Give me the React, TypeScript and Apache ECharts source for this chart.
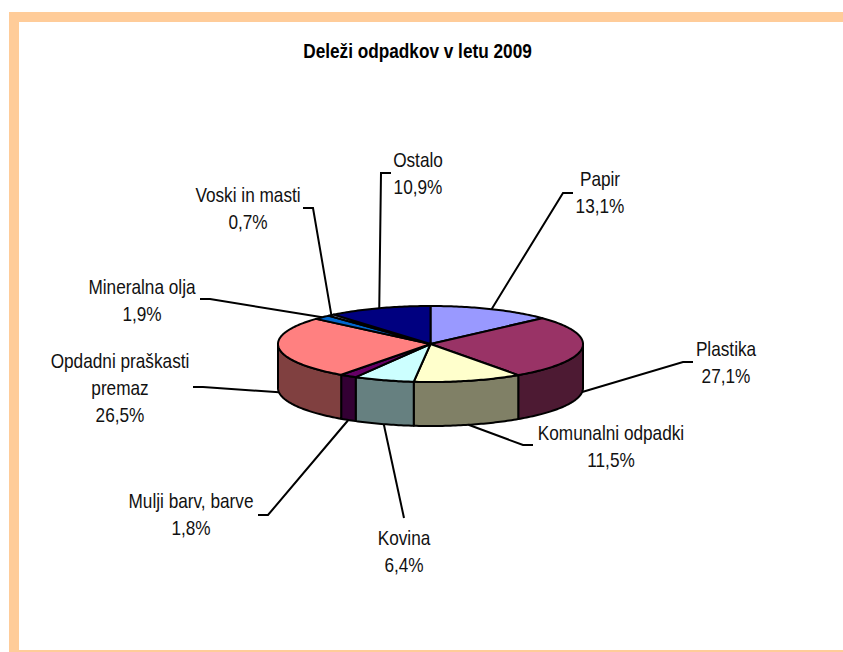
import React, { useEffect, useRef } from "react";
import * as echarts from "echarts";

// ---- data ----
const categories = [
  "Papir",
  "Plastika",
  "Komunalni odpadki",
  "Kovina",
  "Mulji barv, barve",
  "Opdadni praškasti premaz",
  "Mineralna olja",
  "Voski in masti",
  "Ostalo",
];
const shares = [13.1, 27.1, 11.5, 6.4, 1.8, 26.5, 1.9, 0.7, 10.9];
const chartTitle = "Deleži odpadkov v letu 2009";

// ---- styles ----
const sliceColors = [
  "#9999FF",
  "#993366",
  "#FFFFCC",
  "#CCFFFF",
  "#660066",
  "#FF8080",
  "#0066CC",
  "#CCCCFF",
  "#000080",
];

// ---- layout (label text centre x,y ; leader elbow x,y ; tick length) ----
const labelLayout: [number, number, number, number, number][] = [
  [600, 192.5, 563, 193, 10],
  [726, 362.5, 683, 362, 10],
  [611, 446, 523, 445, 10],
  [404, 551.5, 404, 518, 0],
  [191, 514, 268, 515, -10],
  [120, 388, 203, 387, -10],
  [142, 300, 210, 299, -10],
  [248, 208.5, 313, 208, -10],
  [418, 173.5, 381, 173, 10],
];

const PIE_CX = 430.5;
const PIE_CY = 344;
const PIE_RX = 152.5;
const PIE_RY = 38;
const PIE_DEPTH = 44;
const FONT = '"Liberation Sans", Arial, sans-serif';
const NARROW = 0.82;

function darken(hex: string): string {
  const n = parseInt(hex.slice(1), 16);
  const r = Math.round(((n >> 16) & 255) / 2);
  const g = Math.round(((n >> 8) & 255) / 2);
  const b = Math.round((n & 255) / 2);
  return "rgb(" + r + "," + g + "," + b + ")";
}

function fmtLabel(name: string, v: number): string {
  let n = name;
  if (n.length > 20) {
    const k = n.lastIndexOf(" ");
    n = n.slice(0, k) + "\n" + n.slice(k + 1);
  }
  return n + "\n" + v.toFixed(1).replace(".", ",") + "%";
}

export default function App() {
  const ref = useRef<HTMLDivElement>(null);
  useEffect(() => {
    if (!ref.current) return;
    const chart = echarts.init(ref.current, undefined, { renderer: "svg" });
    const total = shares.reduce((a, b) => a + b, 0);

    const pt = (deg: number, dy: number) => {
      const r = (deg * Math.PI) / 180;
      return [PIE_CX + PIE_RX * Math.sin(r), PIE_CY - PIE_RY * Math.cos(r) + dy];
    };
    const arc = (s: number, e: number, dy: number) => {
      const pts: number[][] = [];
      const n = Math.max(2, Math.ceil(e - s));
      for (let k = 0; k <= n; k++) pts.push(pt(s + ((e - s) * k) / n, dy));
      return pts;
    };

    const option: any = {
      animation: false,
      backgroundColor: "#FFFFFF",
      graphic: [
        {
          type: "rect",
          shape: { x: 14, y: 17, width: 860, height: 638 },
          style: { fill: "none", stroke: "#FFCC99", lineWidth: 10 },
          silent: true,
        },
        {
          type: "text",
          x: 417.5,
          y: 51,
          scaleX: NARROW,
          style: {
            text: chartTitle,
            fill: "#000",
            fontFamily: FONT,
            fontSize: 21,
            fontWeight: "bold",
            align: "center",
            verticalAlign: "middle",
          },
        },
      ],
      series: [
        {
          type: "custom",
          coordinateSystem: "none",
          data: shares.map((v, i) => ({ name: categories[i], value: v })),
          renderItem: (params: any, api: any) => {
            const i = params.dataIndex;
            const v = api.value(0) as number;
            let before = 0;
            for (let j = 0; j < i; j++) before += shares[j];
            const a0 = (before / total) * 360;
            const a1 = a0 + (v / total) * 360;
            const children: any[] = [];
            const top = [[PIE_CX, PIE_CY], ...arc(a0, a1, 0)];
            children.push({
              type: "polygon",
              shape: { points: top },
              style: { fill: sliceColors[i], stroke: "#000", lineWidth: 2, lineJoin: "round" },
              z2: 2,
            });
            const s = Math.max(a0, 90);
            const e = Math.min(a1, 270);
            if (s < e) {
              const wall = [...arc(s, e, 0), ...arc(s, e, PIE_DEPTH).reverse()];
              children.push({
                type: "polygon",
                shape: { points: wall },
                style: { fill: darken(sliceColors[i]), stroke: "#000", lineWidth: 2, lineJoin: "round" },
                z2: 1,
              });
            }
            const mid = (a0 + a1) / 2;
            const front = Math.cos((mid * Math.PI) / 180) < 0;
            const start = pt(mid, front ? PIE_DEPTH : 0);
            const L = labelLayout[i];
            children.push({
              type: "polyline",
              shape: { points: [start, [L[2], L[3]], [L[2] + L[4], L[3]]] },
              style: { fill: "none", stroke: "#000", lineWidth: 2 },
              z2: 3,
            });
            children.push({
              type: "text",
              x: L[0],
              y: L[1],
              scaleX: NARROW,
              style: {
                text: fmtLabel(categories[i], v),
                fill: "#111",
                fontFamily: FONT,
                fontSize: 21,
                lineHeight: 27,
                align: "center",
                verticalAlign: "middle",
              },
              z2: 4,
            });
            return { type: "group", children };
          },
        },
      ],
    };
    chart.setOption(option);
    return () => chart.dispose();
  }, []);
  return (
    <div
      ref={ref}
      style={{ position: "fixed", left: 0, top: 0, width: 843, height: 652 }}
    />
  );
}
